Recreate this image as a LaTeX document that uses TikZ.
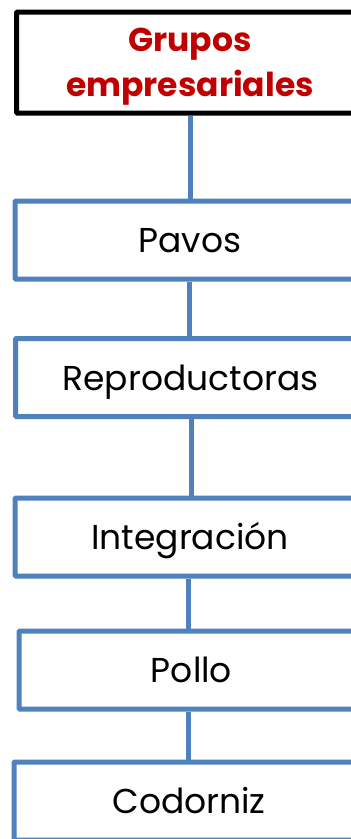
\documentclass[tikz,border=0pt]{standalone}
\usepackage{fontspec}
\setmainfont{Poppins}
\definecolor{boxblue}{HTML}{4F81BD}
\definecolor{titlered}{HTML}{C00000}
\tikzset{
  itembox/.style={draw=boxblue, line width=5pt, rounded corners=1pt, fill=white,
    minimum width=350pt, minimum height=78pt, inner sep=0pt,
    font=\fontsize{34.5}{40}\selectfont, text height=25pt, text depth=0pt},
  titlebox/.style={draw=black, line width=5pt, rounded corners=1pt, fill=white,
    minimum width=347pt, minimum height=101pt, inner sep=0pt, align=center,
    text=titlered, font=\bfseries\fontsize{33}{45}\selectfont,
    text height=68pt, text depth=-3pt},
  link/.style={draw=boxblue, line width=5pt}
}
\begin{document}
\begin{tikzpicture}[x=1pt,y=-1pt]
\useasboundingbox (0,0) rectangle (351,839);
\clip (0,0) rectangle (351,839);
\node[titlebox] (top) at (190,62.5) {Grupos\\empresariales};
\node[itembox] (pavos) at (190,240) {Pavos};
\node[itembox] (repro) at (190.5,377.5) {Reproductoras};
\node[itembox] (integ) at (190,537) {Integración};
\node[itembox, minimum width=345pt] (pollo) at (191.5,670) {Pollo};
\node[itembox] (codor) at (189,801) {Codorniz};
\draw[link] (top.south -| 190,0) -- (pavos.north -| 190,0);
\draw[link] (pavos.south -| 189,0) -- (repro.north -| 189,0);
\draw[link] (repro.south -| 191,0) -- (integ.north -| 191,0);
\draw[link] (integ.south -| 188,0) -- (pollo.north -| 188,0);
\draw[link] (pollo.south -| 188,0) -- (codor.north -| 188,0);
\end{tikzpicture}
\end{document}
